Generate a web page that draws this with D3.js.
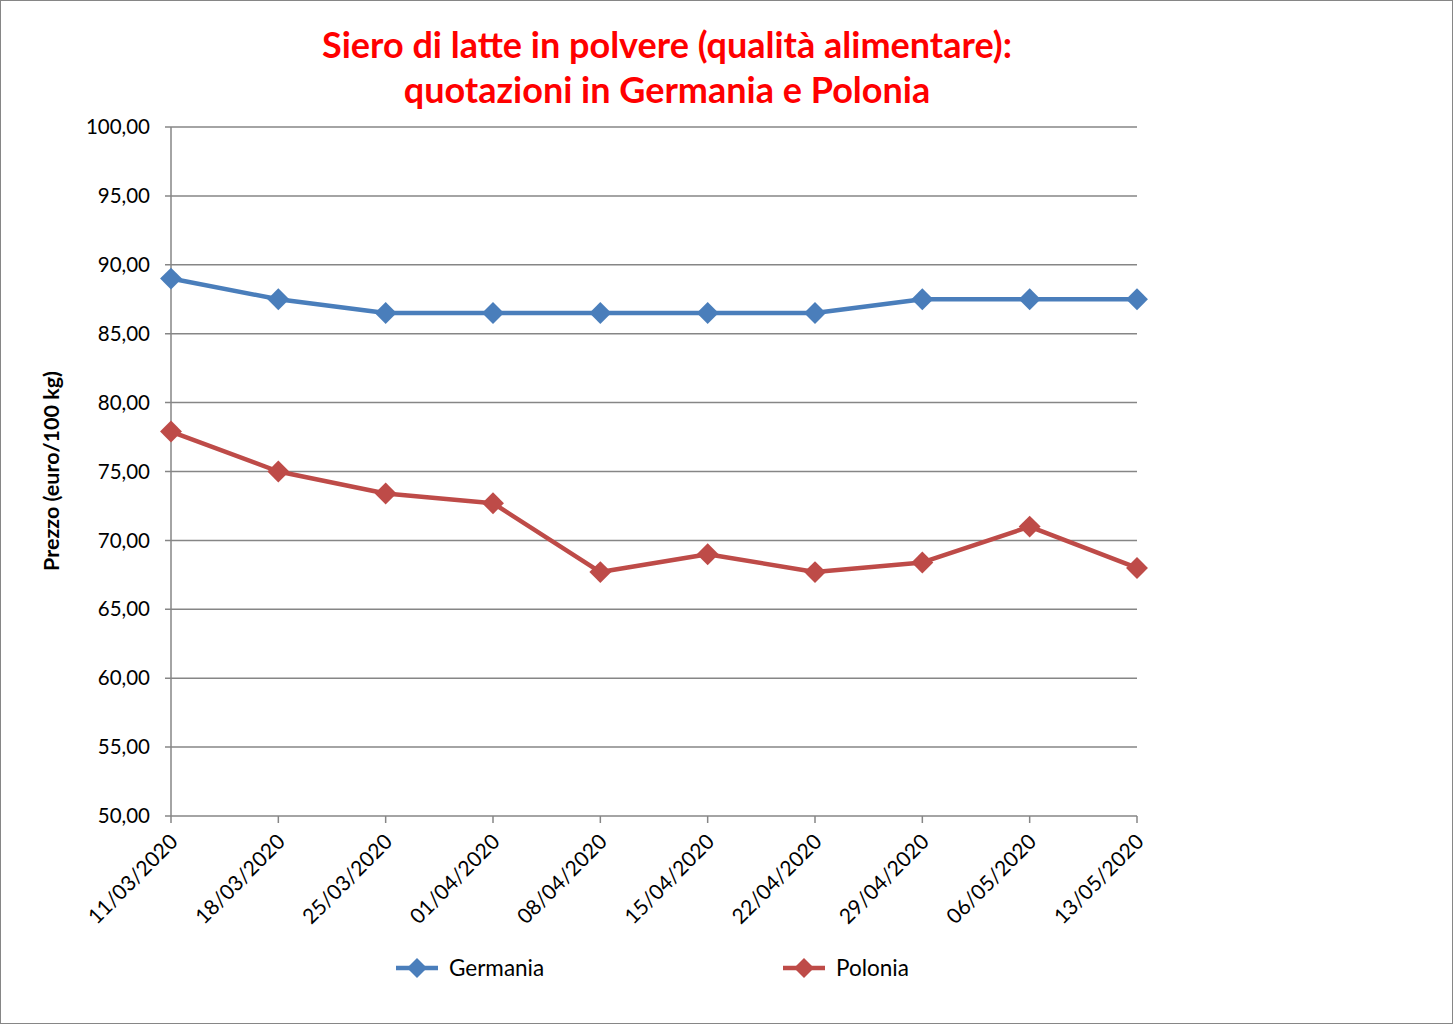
<!DOCTYPE html>
<html><head><meta charset="utf-8">
<script src="https://cdn.jsdelivr.net/npm/d3@7"></script>
<style>body{margin:0;background:#fff}svg{display:block}text{font-family:Lato,"Open Sans",sans-serif}</style>
</head><body>
<svg id="c" width="1453" height="1024"></svg>
<script>
const categories = ["11/03/2020","18/03/2020","25/03/2020","01/04/2020","08/04/2020","15/04/2020","22/04/2020","29/04/2020","06/05/2020","13/05/2020"];
const germania = [89.0, 87.5, 86.5, 86.5, 86.5, 86.5, 86.5, 87.5, 87.5, 87.5];
const polonia = [77.9, 75.0, 73.4, 72.7, 67.7, 69.0, 67.7, 68.4, 71.0, 68.0];
const yTicks = [50,55,60,65,70,75,80,85,90,95,100];
const seriesNames = ["Germania","Polonia"];
const colors = ["#4a7ebb","#be4b48"];

const svg = d3.select("#c");
svg.append("rect").attr("x",0.5).attr("y",0.5).attr("width",1452).attr("height",1023).attr("fill","#fff").attr("stroke","#868686");

const L=171, R=1137, T=127, B=816;
const x = d3.scalePoint().domain(categories).range([L,R]);
const y = d3.scaleLinear().domain([50,100]).range([B,T]);
const fmt = v => d3.format(".2f")(v).replace(".",",");

svg.append("g").selectAll("line").data(yTicks).join("line")
  .attr("x1",L-6).attr("x2",R).attr("y1",d=>y(d)).attr("y2",d=>y(d))
  .attr("stroke","#868686").attr("stroke-width",1.5);
svg.append("line").attr("x1",L).attr("x2",L).attr("y1",T).attr("y2",B).attr("stroke","#868686").attr("stroke-width",1.5);
svg.append("g").selectAll("line").data(categories).join("line")
  .attr("x1",d=>x(d)).attr("x2",d=>x(d)).attr("y1",B).attr("y2",B+7).attr("stroke","#868686").attr("stroke-width",1.5);
svg.append("g").selectAll("text").data(yTicks).join("text")
  .attr("x",150).attr("y",d=>y(d)).attr("dy","0.35em").attr("text-anchor","end")
  .attr("font-size",20.5).attr("fill","#000").text(fmt);
svg.append("g").selectAll("text").data(categories).join("text")
  .attr("transform",d=>`translate(${x(d)+8},${B+27}) rotate(-45)`)
  .attr("text-anchor","end").attr("font-size",21).attr("fill","#000").text(d=>d);
svg.append("text").attr("transform","translate(59,471) rotate(-90)").attr("text-anchor","middle")
  .attr("font-size",21.5).attr("font-weight","bold").text("Prezzo (euro/100 kg)");
const t = svg.append("text").attr("text-anchor","middle").attr("font-size",36).attr("font-weight","bold").attr("fill","#ff0000");
t.append("tspan").attr("x",667).attr("y",58).text("Siero di latte in polvere (qualità alimentare):");
t.append("tspan").attr("x",667).attr("y",103).text("quotazioni in Germania e Polonia");

const data = [germania, polonia];
const line = d3.line().x((d,i)=>x(categories[i])).y(d=>y(d));
data.forEach((vals,k)=>{
  svg.append("path").datum(vals).attr("d",line).attr("fill","none").attr("stroke",colors[k]).attr("stroke-width",4.5).attr("stroke-linejoin","round");
  svg.append("g").selectAll("path").data(vals).join("path")
    .attr("transform",(d,i)=>`translate(${x(categories[i])},${y(d)}) rotate(45)`)
    .attr("d",d3.symbol().type(d3.symbolSquare).size(240)).attr("fill",colors[k]);
});
const legX = [396, 783];
seriesNames.forEach((n,k)=>{
  const g = svg.append("g").attr("transform",`translate(${legX[k]},968)`);
  g.append("line").attr("x1",0).attr("x2",42).attr("stroke",colors[k]).attr("stroke-width",4.5);
  g.append("path").attr("transform","translate(21,0) rotate(45)").attr("d",d3.symbol().type(d3.symbolSquare).size(200)).attr("fill",colors[k]);
  g.append("text").attr("x",53).attr("dy","0.35em").attr("font-size",22.5).text(n);
});
</script>
</body></html>
